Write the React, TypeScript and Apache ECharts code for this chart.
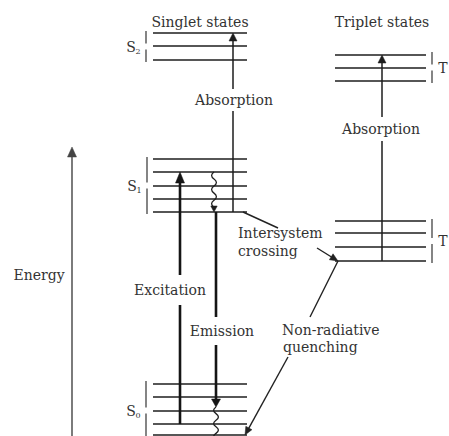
import React, { useEffect, useRef } from "react";
import * as echarts from "echarts";

const WIDTH = 449;
const HEIGHT = 436;

// Horizontal extent of the level ladders (x units)
const SINGLET_SPAN = [153, 247];
const TRIPLET_SPAN = [335, 426];

// Energy levels (arbitrary energy units, 0 = bottom of the figure)
const S0_LEVELS = [52, 39, 25, 12, 1];
const S1_LEVELS = [277, 264, 250, 237, 224];
const S2_LEVELS = [403, 390, 376];
const T1_LEVELS = [215, 203, 189, 175];
const T2_LEVELS = [381, 368, 355];

// Brackets beside each ladder: [x, top energy, bottom energy]
const BRACKETS = [
  [146, 55, -4],
  [147, 279, 222],
  [146, 405, 374],
  [432, 217, 173],
  [432, 384, 353],
];

// Straight transitions: [x1, e1, x2, e2]
const TRANSITION_NAMES = [
  "Energy axis",
  "Absorption S1→S2",
  "Absorption T1→T2",
  "Excitation",
  "Emission",
  "Intersystem crossing a",
  "Intersystem crossing b",
  "Quenching a",
  "Quenching b",
];
const TRANSITIONS = [
  [72, 0, 72, 289],
  [233, 224, 233, 403],
  [382, 175, 382, 381],
  [180, 12, 180, 264],
  [216, 224, 216, 29],
  [243, 224, 278, 208],
  [317, 188, 338, 175],
  [338, 175, 310, 119],
  [288, 79, 245, 1],
];
const TRANSITION_WIDTH = [1.4, 1.5, 1.5, 2.6, 2.6, 1.4, 1.4, 1.4, 1.4];
// arrow head at end: [length, half width] or null
const TRANSITION_ARROW: (number[] | null)[] = [
  [10, 4.5],
  [8, 4],
  [8, 4],
  [11, 4.5],
  [8, 4.5],
  null,
  [8, 3.5],
  null,
  [8, 3.5],
];
const TRANSITION_COLOR = ["#444", "#1c1c1c", "#1c1c1c", "#151515", "#151515", "#222", "#222", "#222", "#222"];

// Vibrational relaxation (wavy): [x, e start, e end]
const RELAXATIONS = [
  [214, 264, 224],
  [216, 29, -4],
];
const RELAXATION_ARROW: (number[] | null)[] = [[6, 3.2], null];

// Text labels
const LABEL_TEXT = [
  "Singlet states",
  "Triplet states",
  "Absorption",
  "Absorption",
  "Energy",
  "Excitation",
  "Emission",
  "Intersystem",
  "crossing",
  "Non-radiative",
  "quenching",
];
const LABEL_POS = [
  [200, 414],
  [382, 414],
  [234, 336],
  [381, 307],
  [39, 161],
  [170, 146],
  [222, 105],
  [238, 203],
  [238, 185],
  [282, 106],
  [283, 89],
];
const LABEL_ALIGN = ["center", "center", "center", "center", "center", "center", "center", "left", "left", "left", "left"];
const LABEL_PAD: (number[] | null)[] = [null, null, [4, 2], [5, 2], null, [8, 2], [7, 2], null, null, null, null];

// State symbols: main letter, subscript (T subscripts fall outside the frame), anchor [x, e]
const STATE_MAIN = ["S", "S", "S", "T", "T"];
const STATE_SUB = ["0", "1", "2", "", ""];
const STATE_POS = [
  [131, 25],
  [132, 250],
  [131, 389],
  [443, 195],
  [443, 368],
];

const FONT = '"DejaVu Serif", "Liberation Serif", serif';
const INK = "#1e1e1e";
const TEXT_INK = "#333";

const LEVEL_ROWS = [
  ...S0_LEVELS.map((e) => [SINGLET_SPAN[0], SINGLET_SPAN[1], e]),
  ...S1_LEVELS.map((e) => [SINGLET_SPAN[0], SINGLET_SPAN[1], e]),
  ...S2_LEVELS.map((e) => [SINGLET_SPAN[0], SINGLET_SPAN[1], e]),
  ...T1_LEVELS.map((e) => [TRIPLET_SPAN[0], TRIPLET_SPAN[1], e]),
  ...T2_LEVELS.map((e) => [TRIPLET_SPAN[0], TRIPLET_SPAN[1], e]),
];

function arrowHead(tip: number[], from: number[], len: number, half: number, color: string) {
  const dx = tip[0] - from[0];
  const dy = tip[1] - from[1];
  const d = Math.hypot(dx, dy) || 1;
  const ux = dx / d;
  const uy = dy / d;
  const bx = tip[0] - ux * len;
  const by = tip[1] - uy * len;
  return {
    type: "polygon",
    shape: {
      points: [
        [tip[0], tip[1]],
        [bx - uy * half, by + ux * half],
        [bx + uy * half, by - ux * half],
      ],
    },
    style: { fill: color, stroke: color, lineWidth: 0.5 },
  };
}

function wavePath(p1: number[], p2: number[], amp: number, halfWave: number) {
  const dx = p2[0] - p1[0];
  const dy = p2[1] - p1[1];
  const L = Math.hypot(dx, dy) || 1;
  const n = Math.max(1, Math.round(L / halfWave));
  const ux = dx / L;
  const uy = dy / L;
  const nx = -uy;
  const ny = ux;
  let d = `M${p1[0]},${p1[1]}`;
  for (let i = 0; i < n; i++) {
    const sign = i % 2 === 0 ? 1 : -1;
    const sm = ((i + 0.5) / n) * L;
    const se = ((i + 1) / n) * L;
    const cx = p1[0] + ux * sm + nx * amp * 2 * sign;
    const cy = p1[1] + uy * sm + ny * amp * 2 * sign;
    const ex = p1[0] + ux * se;
    const ey = p1[1] + uy * se;
    d += ` Q${cx},${cy} ${ex},${ey}`;
  }
  return d;
}

export default function App() {
  const ref = useRef<HTMLDivElement>(null);

  useEffect(() => {
    document.body.style.margin = "0";
    if (!ref.current) return;
    const chart = echarts.init(ref.current, undefined, { renderer: "svg" });

    const option: any = {
      animation: false,
      backgroundColor: "#ffffff",
      grid: { left: 0, right: 0, top: 0, bottom: 0 },
      xAxis: { type: "value", min: 0, max: WIDTH, show: false },
      yAxis: { type: "value", min: 0, max: HEIGHT, show: false },
      series: [
        {
          name: "Energy levels",
          type: "custom",
          clip: false,
          z: 2,
          data: LEVEL_ROWS,
          renderItem: (params: any, api: any) => {
            const a = api.coord([api.value(0), api.value(2)]);
            const b = api.coord([api.value(1), api.value(2)]);
            return {
              type: "line",
              shape: { x1: a[0], y1: a[1], x2: b[0], y2: b[1] },
              style: { stroke: INK, lineWidth: 1.6 },
            };
          },
        },
        {
          name: "Brackets",
          type: "custom",
          clip: false,
          z: 2,
          data: BRACKETS,
          renderItem: (params: any, api: any) => {
            const top = api.coord([api.value(0), api.value(1)]);
            const bot = api.coord([api.value(0), api.value(2)]);
            const mid = (top[1] + bot[1]) / 2;
            const gap = 3;
            return {
              type: "group",
              children: [
                {
                  type: "line",
                  shape: { x1: top[0], y1: top[1], x2: top[0], y2: mid - gap },
                  style: { stroke: "#333", lineWidth: 1.2 },
                },
                {
                  type: "line",
                  shape: { x1: top[0], y1: mid + gap, x2: top[0], y2: bot[1] },
                  style: { stroke: "#333", lineWidth: 1.2 },
                },
              ],
            };
          },
        },
        {
          name: "Transitions",
          type: "custom",
          clip: false,
          z: 3,
          data: TRANSITIONS,
          renderItem: (params: any, api: any) => {
            const i = params.dataIndex;
            const p1 = api.coord([api.value(0), api.value(1)]);
            const p2 = api.coord([api.value(2), api.value(3)]);
            const color = TRANSITION_COLOR[i];
            const arrow = TRANSITION_ARROW[i];
            let end = p2;
            const children: any[] = [];
            if (arrow) {
              const dx = p2[0] - p1[0];
              const dy = p2[1] - p1[1];
              const L = Math.hypot(dx, dy) || 1;
              end = [p2[0] - (dx / L) * arrow[0] * 0.6, p2[1] - (dy / L) * arrow[0] * 0.6];
            }
            children.push({
              type: "line",
              shape: { x1: p1[0], y1: p1[1], x2: end[0], y2: end[1] },
              style: { stroke: color, lineWidth: TRANSITION_WIDTH[i] },
            });
            if (arrow) children.push(arrowHead(p2, p1, arrow[0], arrow[1], color));
            return { type: "group", children };
          },
        },
        {
          name: "Vibrational relaxation",
          type: "custom",
          clip: false,
          z: 3,
          data: RELAXATIONS,
          renderItem: (params: any, api: any) => {
            const i = params.dataIndex;
            const p1 = api.coord([api.value(0), api.value(1)]);
            const p2 = api.coord([api.value(0), api.value(2)]);
            const arrow = RELAXATION_ARROW[i];
            const children: any[] = [];
            let end = p2;
            if (arrow) end = [p2[0], p2[1] - arrow[0] * 0.8];
            children.push({
              type: "path",
              shape: { pathData: wavePath(p1, end, 2.4, 7) },
              style: { stroke: INK, fill: "none", lineWidth: 1.3 },
            });
            if (arrow) children.push(arrowHead(p2, [end[0], end[1] - 2], arrow[0], arrow[1], INK));
            return { type: "group", children };
          },
        },
        {
          name: "Labels",
          type: "custom",
          clip: false,
          z: 10,
          data: LABEL_POS,
          renderItem: (params: any, api: any) => {
            const i = params.dataIndex;
            const p = api.coord([api.value(0), api.value(1)]);
            const pad = LABEL_PAD[i];
            const style: any = {
              text: LABEL_TEXT[i],
              x: p[0],
              y: p[1],
              fill: TEXT_INK,
              fontFamily: FONT,
              fontSize: 14,
              align: LABEL_ALIGN[i],
              verticalAlign: "middle",
            };
            if (pad) {
              style.backgroundColor = "#ffffff";
              style.padding = pad;
            }
            return { type: "text", z2: 10, style };
          },
        },
        {
          name: "State symbols",
          type: "custom",
          clip: false,
          z: 10,
          data: STATE_POS,
          renderItem: (params: any, api: any) => {
            const i = params.dataIndex;
            const p = api.coord([api.value(0), api.value(1)]);
            const children: any[] = [
              {
                type: "text",
                style: {
                  text: STATE_MAIN[i],
                  x: p[0],
                  y: p[1],
                  fill: TEXT_INK,
                  fontFamily: FONT,
                  fontSize: 14,
                  align: "center",
                  verticalAlign: "middle",
                },
              },
            ];
            if (STATE_SUB[i]) {
              children.push({
                type: "text",
                style: {
                  text: STATE_SUB[i],
                  x: p[0] + 4.5,
                  y: p[1] + 4,
                  fill: TEXT_INK,
                  fontFamily: FONT,
                  fontSize: 8,
                  align: "left",
                  verticalAlign: "middle",
                },
              });
            }
            return { type: "group", children };
          },
        },
      ],
    };

    chart.setOption(option);
    return () => chart.dispose();
  }, []);

  return <div ref={ref} style={{ width: WIDTH, height: HEIGHT }} />;
}
